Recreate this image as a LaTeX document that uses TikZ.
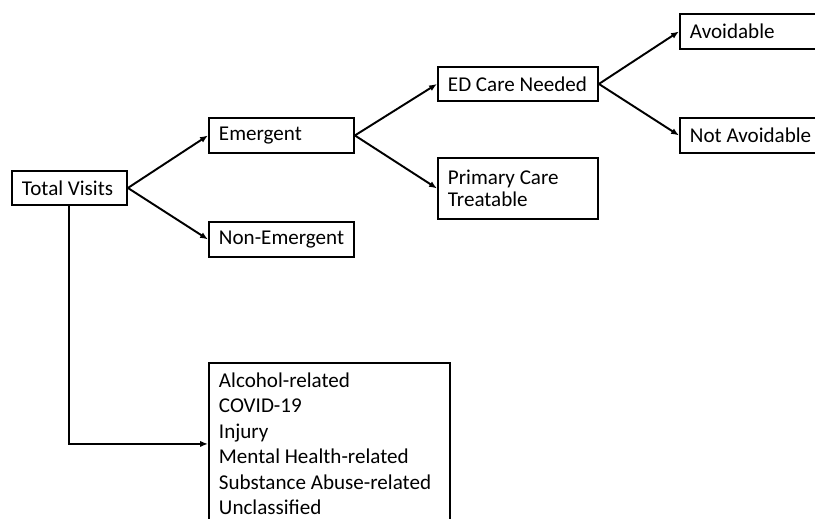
\documentclass[tikz,border=0pt]{standalone}
\usepackage{fontspec}
\setmainfont{Carlito}
\usetikzlibrary{arrows.meta}

\begin{document}
\begin{tikzpicture}[
  x=0.02cm,y=-0.02cm,
  font=\fontsize{12}{14.5}\selectfont,
  leaf/.style={draw,line width=1.1pt,anchor=north west,inner xsep=0.2cm,align=left,
    execute at begin node={\spaceskip=0pt\xspaceskip=0pt\hyphenpenalty=10000\exhyphenpenalty=10000}},
  link/.style={line width=1.1pt,-{Latex[length=4.5pt,width=3.6pt]}},
]
\useasboundingbox (0,0) rectangle (815,519);
\clip (0,0) rectangle (815,519);
\node[leaf,text width=1.9cm,minimum height=0.68cm] (total) at (11,170) {Total Visits};
\node[leaf,text width=2.5cm,minimum height=0.7cm] (emerg) at (208,117) {Emergent};
\node[leaf,text width=2.5cm,minimum height=0.7cm] (nonemerg) at (208,221) {Non-Emergent};
\node[leaf,text width=2.8cm,minimum height=0.68cm] (edcare) at (437,66) {ED Care Needed};
\node[leaf,text width=2.8cm,minimum height=1.22cm,font=\fontsize{12}{12.7}\selectfont] (primary) at (437,157) {Primary Care\\Treatable};
\node[leaf,text width=2.8cm,minimum height=0.7cm] (avoid) at (679,13) {Avoidable};
\node[leaf,text width=2.8cm,minimum height=0.7cm] (notavoid) at (679,117) {Not Avoidable};
\node[leaf,text width=4.42cm,minimum height=3.24cm] (other) at (208,362) {Alcohol-related\\COVID-19\\Injury\\Mental Health-related\\Substance Abuse-related\\Unclassified};
\draw[link] (total.east) -- (emerg.west);
\draw[link] (total.east) -- (nonemerg.west);
\draw[link] (emerg.east) -- (edcare.west);
\draw[link] (emerg.east) -- (primary.west);
\draw[link] (edcare.east) -- (avoid.west);
\draw[link] (edcare.east) -- (notavoid.west);
\draw[link] (total.south) |- (other.west);
\end{tikzpicture}
\end{document}
